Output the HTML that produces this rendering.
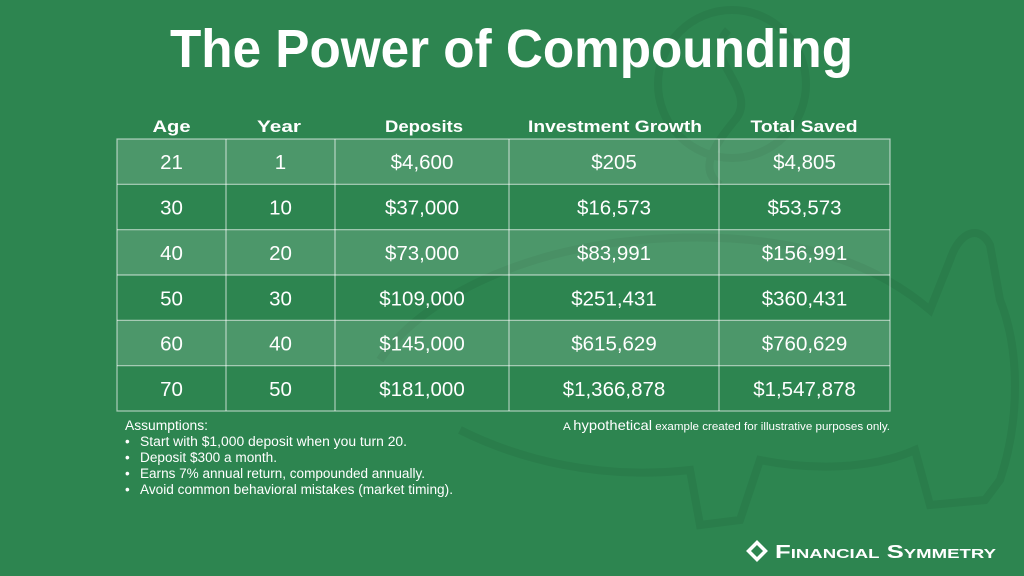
<!DOCTYPE html>
<html><head><meta charset="utf-8">
<style>
html,body{margin:0;padding:0;background:#2d8550;}
svg{display:block;}
text{font-family:"Liberation Sans",sans-serif;fill:#fff;}
</style></head>
<body>
<svg width="1024" height="576" viewBox="0 0 1024 576" xmlns="http://www.w3.org/2000/svg">
<rect width="1024" height="576" fill="#2d8550"/>
<!-- watermark piggy -->
<g fill="none" stroke="#2a7d4b" stroke-width="8">
  <circle cx="732" cy="84" r="74"/>
  <path d="M728 30 C700 60,760 90,735 120 C710 150,700 170,720 185"/>
  <path d="M380 360 C420 300,520 250,640 240 C760 230,860 250,930 310 L950 260 C960 230,980 225,990 245 L1000 300 C1020 350,1020 420,1000 480 L985 500 L930 505 L915 450 C870 470,810 470,760 460 L740 520 L700 525 L690 470 C600 480,520 460,460 430"/>
</g>
<!-- title -->
<text x="170" y="67" font-size="54" font-weight="bold" textLength="683" lengthAdjust="spacingAndGlyphs">The Power of Compounding</text>
<!-- headers -->
<g font-size="16.5" font-weight="bold" text-anchor="middle">
<text x="171.5" y="132" textLength="38" lengthAdjust="spacingAndGlyphs">Age</text>
<text x="279" y="132" textLength="44" lengthAdjust="spacingAndGlyphs">Year</text>
<text x="424" y="132" textLength="78" lengthAdjust="spacingAndGlyphs">Deposits</text>
<text x="615" y="132" textLength="174" lengthAdjust="spacingAndGlyphs">Investment Growth</text>
<text x="804" y="132" textLength="107" lengthAdjust="spacingAndGlyphs">Total Saved</text>
</g>
<!-- row fills -->
<g fill="#ffffff" fill-opacity="0.15">
<rect x="117" y="139" width="773" height="45.33"/>
<rect x="117" y="229.67" width="773" height="45.33"/>
<rect x="117" y="320.33" width="773" height="45.33"/>
</g>
<!-- grid -->
<g stroke="#ffffff" stroke-opacity="0.6" stroke-width="1.2" fill="none">
<rect x="117" y="139" width="773" height="272"/>
<line x1="117" y1="184.33" x2="890" y2="184.33"/>
<line x1="117" y1="229.67" x2="890" y2="229.67"/>
<line x1="117" y1="275" x2="890" y2="275"/>
<line x1="117" y1="320.33" x2="890" y2="320.33"/>
<line x1="117" y1="365.67" x2="890" y2="365.67"/>
<line x1="226" y1="139" x2="226" y2="411"/>
<line x1="335" y1="139" x2="335" y2="411"/>
<line x1="509" y1="139" x2="509" y2="411"/>
<line x1="719" y1="139" x2="719" y2="411"/>
</g>
<!-- data -->
<g font-size="20.5" text-anchor="middle">
<text x="171.5" y="169">21</text><text x="280.5" y="169">1</text><text x="422" y="169">$4,600</text><text x="614" y="169">$205</text><text x="804.5" y="169">$4,805</text>
<text x="171.5" y="214.5">30</text><text x="280.5" y="214.5">10</text><text x="422" y="214.5">$37,000</text><text x="614" y="214.5">$16,573</text><text x="804.5" y="214.5">$53,573</text>
<text x="171.5" y="260">40</text><text x="280.5" y="260">20</text><text x="422" y="260">$73,000</text><text x="614" y="260">$83,991</text><text x="804.5" y="260">$156,991</text>
<text x="171.5" y="305.3">50</text><text x="280.5" y="305.3">30</text><text x="422" y="305.3">$109,000</text><text x="614" y="305.3">$251,431</text><text x="804.5" y="305.3">$360,431</text>
<text x="171.5" y="350.7">60</text><text x="280.5" y="350.7">40</text><text x="422" y="350.7">$145,000</text><text x="614" y="350.7">$615,629</text><text x="804.5" y="350.7">$760,629</text>
<text x="171.5" y="396">70</text><text x="280.5" y="396">50</text><text x="422" y="396">$181,000</text><text x="614" y="396">$1,366,878</text><text x="804.5" y="396">$1,547,878</text>
</g>
<!-- assumptions -->
<g font-size="13.5" fill="#e8f2ec">
<text x="125" y="430" textLength="83" lengthAdjust="spacingAndGlyphs">Assumptions:</text>
<text x="125" y="446">•</text><text x="140" y="446" textLength="267" lengthAdjust="spacingAndGlyphs">Start with $1,000 deposit when you turn 20.</text>
<text x="125" y="462">•</text><text x="140" y="462" textLength="137" lengthAdjust="spacingAndGlyphs">Deposit $300 a month.</text>
<text x="125" y="478">•</text><text x="140" y="478" textLength="285" lengthAdjust="spacingAndGlyphs">Earns 7% annual return, compounded annually.</text>
<text x="125" y="494">•</text><text x="140" y="494" textLength="313" lengthAdjust="spacingAndGlyphs">Avoid common behavioral mistakes (market timing).</text>
</g>
<!-- footnote -->
<text x="563" y="430" font-size="11" textLength="327" lengthAdjust="spacingAndGlyphs"><tspan>A </tspan><tspan font-size="14">hypothetical</tspan><tspan> example created for illustrative purposes only.</tspan></text>
<!-- logo -->
<rect x="751" y="545" width="12" height="12" transform="rotate(45 757 551)" fill="none" stroke="#fff" stroke-width="3.5"/>
<text x="775" y="558" font-size="18" font-weight="bold" font-variant="small-caps" textLength="221" lengthAdjust="spacingAndGlyphs">Financial Symmetry</text>
</svg>
</body></html>
